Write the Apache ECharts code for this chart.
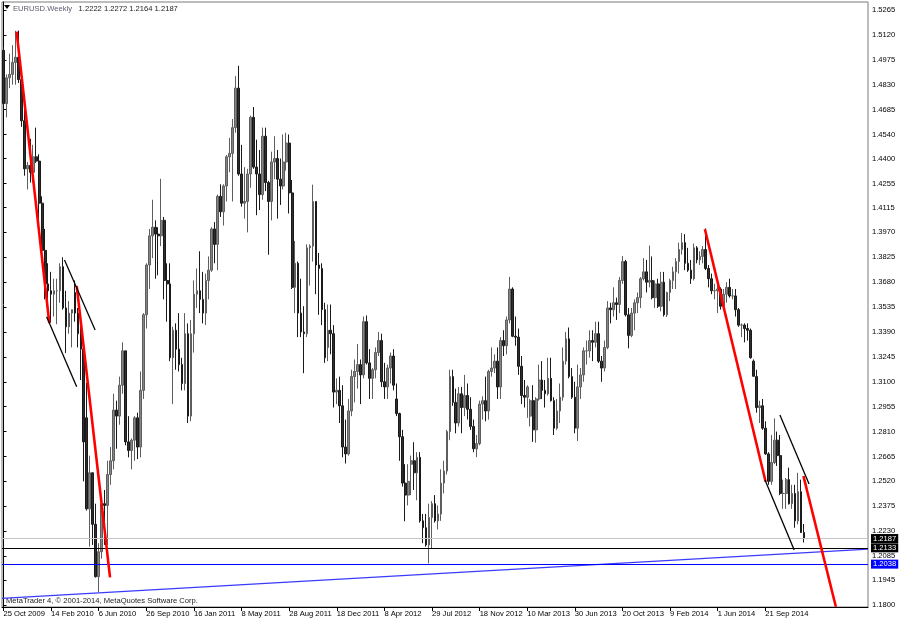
<!DOCTYPE html>
<html><head><meta charset="utf-8">
<script src="https://cdn.jsdelivr.net/npm/echarts@6/dist/echarts.min.js"></script>
<style>html,body{margin:0;padding:0;background:#fff}#c{width:900px;height:621px}</style>
</head><body><div id="c"></div><script>
// ---- data ----
const firstWeek = '2009-10-25';
const futureWeeks = 21;
const opens = [1.5030,1.4720,1.4870,1.4890,1.4960,1.4990,1.4860,1.4620,1.4340,1.4360,1.4320,1.4410,1.4385,1.4140,1.3865,1.3670,1.3630,1.3610,1.3630,1.3630,
1.3770,1.3530,1.3420,1.3500,1.3620,1.3500,1.3380,1.3290,1.2890,1.2360,1.2570,1.2270,1.1965,1.2110,1.2390,1.2380,1.2560,1.2640,1.2935,1.2900,
1.3080,1.3280,1.2750,1.2700,1.2760,1.2890,1.2720,1.3050,1.3490,1.3780,1.3950,1.4000,1.3960,1.3950,1.4040,1.3690,1.3670,1.3240,1.3400,1.3290,
1.3200,1.3090,1.3380,1.2900,1.3380,1.3610,1.3630,1.3580,1.3500,1.3690,1.3750,1.3990,1.3900,1.4180,1.4090,1.4240,1.4410,1.4430,1.4580,1.4810,
1.4310,1.4140,1.4150,1.4310,1.4640,1.4350,1.4310,1.4190,1.4530,1.4260,1.4150,1.4380,1.4400,1.4280,1.4240,1.4380,1.4490,1.4200,1.3650,1.3790,
1.3500,1.3390,1.3380,1.3880,1.3890,1.4150,1.3780,1.3760,1.3520,1.3300,1.3400,1.3380,1.3040,1.3050,1.2960,1.2720,1.2680,1.2930,1.3130,1.3160,
1.3200,1.3140,1.3450,1.3210,1.3120,1.3170,1.3270,1.3340,1.3100,1.3070,1.3180,1.3250,1.3000,1.2915,1.2780,1.2510,1.2440,1.2620,1.2640,1.2570,
1.2660,1.2290,1.2250,1.2150,1.2310,1.2390,1.2290,1.2330,1.2510,1.2580,1.2810,1.3130,1.2980,1.2860,1.3030,1.2950,1.3020,1.2940,1.2840,1.2710,
1.2740,1.2970,1.2990,1.2930,1.3160,1.3180,1.3220,1.3070,1.3340,1.3310,1.3460,1.3640,1.3365,1.3360,1.3190,1.3020,1.3010,1.2900,1.2990,1.2820,
1.3000,1.3110,1.3050,1.3030,1.3120,1.2990,1.2830,1.2930,1.3010,1.3220,1.3350,1.3130,1.3010,1.2830,1.3070,1.3140,1.3280,1.3280,1.3340,1.3330,
1.3380,1.3220,1.3180,1.3300,1.3530,1.3520,1.3560,1.3550,1.3690,1.3800,1.3490,1.3370,1.3500,1.3560,1.3590,1.3700,1.3740,1.3680,1.3690,1.3590,
1.3670,1.3540,1.3680,1.3490,1.3620,1.3690,1.3740,1.3800,1.3870,1.3910,1.3790,1.3750,1.3700,1.3880,1.3810,1.3830,1.3870,1.3760,1.3700,1.3630,
1.3630,1.3640,1.3540,1.3610,1.3650,1.3600,1.3600,1.3520,1.3430,1.3430,1.3410,1.3400,1.3220,1.3130,1.2950,1.2960,1.2830,1.2680,1.2520,1.2630,
1.2760,1.2670,1.2450,1.2450,1.2530,1.2390,1.2450,1.2290,1.2460,1.2222];
const highs = [1.5050,1.4890,1.5010,1.5060,1.5144,1.5145,1.4890,1.4720,1.4380,1.4515,1.4480,1.4580,1.4425,1.4180,1.3990,1.3790,1.3740,1.3700,1.3700,1.3790,
1.3825,1.3630,1.3570,1.3520,1.3690,1.3530,1.3480,1.3320,1.3094,1.2670,1.2570,1.2390,1.2160,1.2400,1.2470,1.2640,1.2720,1.3030,1.2990,1.3130,
1.3330,1.3280,1.2900,1.2770,1.2900,1.2920,1.3160,1.3500,1.3790,1.3990,1.4160,1.4040,1.4000,1.4282,1.4060,1.3790,1.3790,1.3420,1.3440,1.3500,
1.3240,1.3500,1.3440,1.3460,1.3690,1.3760,1.3860,1.3740,1.3730,1.3830,1.4000,1.4030,1.4190,1.4250,1.4250,1.4420,1.4520,1.4630,1.4880,1.4940,
1.4480,1.4350,1.4340,1.4650,1.4700,1.4510,1.4450,1.4580,1.4580,1.4270,1.4440,1.4530,1.4450,1.4400,1.4540,1.4550,1.4540,1.4275,1.3920,1.3800,
1.3700,1.3540,1.3900,1.3900,1.4248,1.4150,1.3850,1.3790,1.3560,1.3550,1.3550,1.3430,1.3120,1.3130,1.3080,1.2880,1.3000,1.3170,1.3230,1.3320,
1.3230,1.3480,1.3486,1.3290,1.3180,1.3300,1.3390,1.3380,1.3210,1.3200,1.3270,1.3290,1.3090,1.2920,1.2820,1.2620,1.2620,1.2670,1.2748,1.2690,
1.2690,1.2330,1.2330,1.2390,1.2405,1.2440,1.2380,1.2590,1.2640,1.2820,1.3170,1.3170,1.3060,1.3070,1.3070,1.3140,1.3090,1.3010,1.2880,1.2790,
1.2990,1.3015,1.3130,1.3170,1.3300,1.3260,1.3300,1.3360,1.3400,1.3480,1.3711,1.3650,1.3480,1.3410,1.3250,1.3110,1.3080,1.3000,1.3080,1.3010,
1.3200,1.3220,1.3110,1.3240,1.3240,1.3010,1.3000,1.3090,1.3300,1.3390,1.3416,1.3180,1.3100,1.3200,1.3180,1.3300,1.3340,1.3400,1.3400,1.3450,
1.3450,1.3250,1.3340,1.3570,1.3560,1.3650,1.3590,1.3710,1.3832,1.3810,1.3530,1.3530,1.3580,1.3620,1.3710,1.3820,1.3810,1.3893,1.3830,1.3690,
1.3700,1.3740,1.3740,1.3625,1.3700,1.3770,1.3820,1.3910,1.3967,1.3960,1.3880,1.3810,1.3905,1.3890,1.3860,1.3890,1.3993,1.3780,1.3730,1.3670,
1.3670,1.3650,1.3640,1.3680,1.3700,1.3640,1.3640,1.3530,1.3440,1.3440,1.3440,1.3410,1.3230,1.3170,1.2990,1.3000,1.2870,1.2690,1.2790,1.2887,
1.2810,1.2790,1.2530,1.2540,1.2600,1.2500,1.2500,1.2570,1.2530,1.2272];
const lows = [1.4680,1.4640,1.4810,1.4830,1.4830,1.4840,1.4585,1.4300,1.4220,1.4260,1.4260,1.4375,1.4030,1.3858,1.3580,1.3560,1.3444,1.3480,1.3435,1.3560,
1.3520,1.3268,1.3380,1.3300,1.3450,1.3300,1.3110,1.2520,1.2350,1.2140,1.2150,1.1960,1.1876,1.2070,1.2150,1.2150,1.2500,1.2590,1.2710,1.2850,
1.3030,1.2730,1.2660,1.2590,1.2640,1.2650,1.2660,1.3000,1.3410,1.3640,1.3820,1.3700,1.3720,1.3890,1.3580,1.3450,1.3220,1.2970,1.3170,1.3160,
1.3050,1.3050,1.2860,1.2870,1.3270,1.3530,1.3500,1.3440,1.3430,1.3580,1.3740,1.3790,1.3750,1.4060,1.4010,1.4150,1.4320,1.4150,1.4550,1.4300,
1.4120,1.4050,1.3970,1.4230,1.4340,1.4070,1.4100,1.4160,1.4210,1.3840,1.4040,1.4280,1.4050,1.4130,1.4220,1.4330,1.4080,1.3640,1.3500,1.3360,
1.3360,1.3150,1.3360,1.3660,1.3800,1.3610,1.3490,1.3430,1.3210,1.3220,1.3260,1.2950,1.2970,1.2860,1.2660,1.2624,1.2670,1.2900,1.2980,1.3060,
1.2970,1.3120,1.3200,1.3000,1.3000,1.3120,1.3250,1.3070,1.3000,1.3000,1.3090,1.3050,1.2900,1.2640,1.2490,1.2288,1.2380,1.2440,1.2470,1.2410,
1.2280,1.2160,1.2140,1.2042,1.2130,1.2280,1.2240,1.2290,1.2450,1.2560,1.2760,1.2960,1.2800,1.2840,1.2800,1.2900,1.2880,1.2820,1.2690,1.2661,
1.2730,1.2880,1.2870,1.2880,1.3130,1.3150,1.3000,1.3000,1.3250,1.3260,1.3440,1.3360,1.3310,1.3140,1.2970,1.2950,1.2890,1.2840,1.2750,1.2745,
1.2990,1.3000,1.2950,1.3020,1.2985,1.2790,1.2820,1.2860,1.2990,1.3200,1.3120,1.3000,1.2800,1.2755,1.3000,1.3100,1.3200,1.3240,1.3220,1.3300,
1.3210,1.3100,1.3160,1.3290,1.3440,1.3480,1.3460,1.3500,1.3670,1.3480,1.3295,1.3360,1.3400,1.3500,1.3530,1.3690,1.3620,1.3650,1.3580,1.3530,
1.3530,1.3510,1.3480,1.3477,1.3570,1.3640,1.3640,1.3730,1.3840,1.3750,1.3740,1.3670,1.3690,1.3790,1.3780,1.3790,1.3750,1.3650,1.3610,1.3580,
1.3500,1.3520,1.3530,1.3560,1.3590,1.3580,1.3480,1.3420,1.3360,1.3330,1.3340,1.3235,1.3130,1.2920,1.2860,1.2820,1.2675,1.2500,1.2500,1.2620,
1.2610,1.2440,1.2360,1.2360,1.2385,1.2360,1.2250,1.2270,1.2220,1.2164];
const closes = [1.4720,1.4870,1.4890,1.4960,1.4990,1.4860,1.4620,1.4340,1.4360,1.4320,1.4410,1.4385,1.4140,1.3865,1.3670,1.3630,1.3610,1.3630,1.3630,1.3770,
1.3530,1.3420,1.3500,1.3520,1.3500,1.3380,1.3290,1.2750,1.2360,1.2570,1.2270,1.1965,1.2110,1.2390,1.2380,1.2560,1.2640,1.2935,1.2900,1.3080,
1.3280,1.2750,1.2700,1.2760,1.2890,1.2720,1.3050,1.3490,1.3780,1.3950,1.4000,1.3960,1.3950,1.4040,1.3690,1.3670,1.3240,1.3400,1.3290,1.3200,
1.3090,1.3380,1.2900,1.3380,1.3610,1.3630,1.3580,1.3500,1.3690,1.3750,1.3990,1.3900,1.4180,1.4090,1.4240,1.4410,1.4430,1.4580,1.4810,1.4310,
1.4140,1.4150,1.4310,1.4640,1.4350,1.4310,1.4190,1.4530,1.4260,1.4150,1.4380,1.4400,1.4280,1.4240,1.4380,1.4490,1.4200,1.3650,1.3790,1.3500,
1.3390,1.3380,1.3880,1.3890,1.4150,1.3780,1.3760,1.3520,1.3240,1.3400,1.3380,1.3040,1.3050,1.2960,1.2720,1.2680,1.2930,1.3130,1.3160,1.3200,
1.3140,1.3450,1.3210,1.3120,1.3170,1.3270,1.3340,1.3100,1.3070,1.3180,1.3250,1.3080,1.2915,1.2780,1.2510,1.2440,1.2520,1.2640,1.2570,1.2660,
1.2290,1.2250,1.2150,1.2310,1.2390,1.2290,1.2330,1.2510,1.2580,1.2810,1.3130,1.2980,1.2860,1.3030,1.2950,1.3020,1.2940,1.2840,1.2710,1.2740,
1.2970,1.2990,1.2930,1.3160,1.3180,1.3220,1.3070,1.3340,1.3310,1.3460,1.3640,1.3365,1.3360,1.3190,1.3020,1.3010,1.3070,1.2990,1.2820,1.3000,
1.3110,1.3050,1.3030,1.3120,1.2990,1.2830,1.2930,1.3010,1.3220,1.3350,1.3130,1.3010,1.2830,1.3070,1.3140,1.3280,1.3280,1.3340,1.3330,1.3380,
1.3220,1.3180,1.3300,1.3530,1.3520,1.3560,1.3550,1.3690,1.3800,1.3490,1.3370,1.3500,1.3560,1.3590,1.3700,1.3740,1.3680,1.3690,1.3590,1.3670,
1.3540,1.3680,1.3490,1.3620,1.3690,1.3740,1.3800,1.3870,1.3910,1.3790,1.3750,1.3700,1.3880,1.3810,1.3830,1.3870,1.3760,1.3700,1.3630,1.3630,
1.3640,1.3540,1.3610,1.3650,1.3600,1.3600,1.3520,1.3430,1.3430,1.3410,1.3400,1.3240,1.3132,1.2950,1.2960,1.2830,1.2680,1.2520,1.2630,1.2760,
1.2670,1.2450,1.2450,1.2530,1.2390,1.2450,1.2290,1.2460,1.2222,1.2187];
const xTickIdx = [0,16,32,48,64,80,96,112,128,144,160,176,192,208,224,240,256];
const xTickLabels = ['25 Oct 2009','14 Feb 2010','6 Jun 2010','26 Sep 2010','16 Jan 2011','8 May 2011','28 Aug 2011','18 Dec 2011','8 Apr 2012','29 Jul 2012','18 Nov 2012','10 Mar 2013','30 Jun 2013','20 Oct 2013','9 Feb 2014','1 Jun 2014','21 Sep 2014'];
const yTickValues = [1.5265,1.5120,1.4975,1.4830,1.4685,1.4540,1.4400,1.4255,1.4115,1.3970,1.3825,1.3680,1.3535,1.3390,1.3245,1.3100,1.2955,1.2810,1.2665,1.2520,1.2375,1.2230,1.2085,1.1945,1.1800];
const bidLine = 1.2187;
const levelBlack = 1.2133;
const levelBlue = 1.2038;
const redTrendlines = [[[4.4,1.5139],[15.4,1.3442]],[[24.6,1.3658],[35.8,1.1961]],[[235.7,1.3988],[256.1,1.2518]],[[268.8,1.2551],[279.7,1.1790]]];
const blackTrendlines = [[[14.5,1.3479],[24.6,1.3071]],[[20.5,1.3809],[30.8,1.3402]],[[255.9,1.2528],[265.7,1.2120]],[[260.9,1.2907],[270.7,1.2505]]];
const supportTrendline = [[-0.5,1.1839],[290.5,1.2126]];
const titleSymbol = 'EURUSD.Weekly';
const titleQuote = [1.2222,1.2272,1.2164,1.2187];

// ---- build ----
const nCat = opens.length + futureWeeks;
const cats = [];
const t0 = Date.UTC(2009,9,25);
for (let i = 0; i < nCat; i++) { const d = new Date(t0 + i*7*86400000); cats.push(d.toISOString().slice(0,10)); }
const candles = opens.map((o,i)=>[o, closes[i], lows[i], highs[i]]);
const FONT = 'Liberation Sans, Arial, sans-serif';
const FS = 7.6;
const YMIN = 1.17884, YMAX = 1.53116;

const chart = echarts.init(document.getElementById('c'), null, {renderer:'canvas'});
const lineSeries = [];
redTrendlines.forEach(seg => lineSeries.push({type:'line', xAxisIndex:1, yAxisIndex:0, data:seg, symbol:'none', silent:true, clip:true, z:5,
  lineStyle:{color:'#ff0000', width:2.6}}));
blackTrendlines.forEach(seg => lineSeries.push({type:'line', xAxisIndex:1, yAxisIndex:0, data:seg, symbol:'none', silent:true, clip:true, z:5,
  lineStyle:{color:'#000000', width:1.3}}));
lineSeries.push({type:'line', xAxisIndex:1, yAxisIndex:0, data:supportTrendline, symbol:'none', silent:true, clip:true, z:4,
  lineStyle:{color:'#3a3aff', width:1.3}});

const lblBase = {show:true, position:'end', distance:3, color:'#fff', fontSize:FS, fontFamily:FONT, padding:[1,2,0,2]};
chart.setOption({
  animation:false,
  backgroundColor:'#fff',
  grid:{left:2, right:32, top:2, bottom:14, show:true, borderColor:'#7a7a7a', borderWidth:1, backgroundColor:'transparent'},
  xAxis:[
    {type:'category', data:cats, boundaryGap:true, show:false},
    {type:'value', min:-0.5, max:nCat-0.5, position:'bottom',
      axisLine:{show:true, lineStyle:{color:'#000', width:1}},
      splitLine:{show:false},
      axisTick:{show:true, customValues:xTickIdx, length:4, lineStyle:{color:'#000'}},
      axisLabel:{customValues:xTickIdx, formatter:v=>{const k=xTickIdx.indexOf(Math.round(v)); return k>=0?xTickLabels[k]:'';},
        align:'left', margin:3, color:'#000', fontSize:FS, fontFamily:FONT, showMinLabel:true, showMaxLabel:true}}
  ],
  yAxis:[{type:'value', position:'right', min:YMIN, max:YMAX, scale:true,
    axisLine:{show:true, lineStyle:{color:'#000', width:1}},
    splitLine:{show:false},
    axisTick:{show:true, customValues:yTickValues, length:3, lineStyle:{color:'#000'}},
    axisLabel:{customValues:yTickValues, formatter:v=>v.toFixed(4), margin:4, color:'#000', fontSize:FS, fontFamily:FONT}}],
  series:[
    {type:'candlestick', xAxisIndex:0, yAxisIndex:0, data:candles, barWidth:2.2, z:3,
      itemStyle:{color:'#858585', color0:'#2e2e2e', borderColor:'#5e5e5e', borderColor0:'#1a1a1a', borderWidth:1},
      markLine:{silent:true, symbol:'none', animation:false, precision:4,
        data:[
          {yAxis:bidLine, lineStyle:{color:'#c4c4c4', width:1, type:'solid'}, label:Object.assign({}, lblBase, {backgroundColor:'#000', formatter:bidLine.toFixed(4)})},
          {yAxis:levelBlack, lineStyle:{color:'#000', width:1, type:'solid'}, label:Object.assign({}, lblBase, {backgroundColor:'#000', formatter:levelBlack.toFixed(4)})},
          {yAxis:levelBlue, lineStyle:{color:'#0000ff', width:1, type:'solid'}, label:Object.assign({}, lblBase, {backgroundColor:'#0000ff', formatter:levelBlue.toFixed(4)})}
        ]}}
  ].concat(lineSeries),
  graphic:[
    {type:'polygon', shape:{points:[[4,5],[10,5],[7,9]]}, style:{fill:'#000'}},
    {type:'text', left:13, top:3, style:{text:'{a|'+titleSymbol+'}  {b|'+titleQuote.map(v=>v.toFixed(4)).join(' ')+'}',
      rich:{a:{fill:'#5a5a6e', fontSize:FS, fontFamily:FONT}, b:{fill:'#222', fontSize:FS, fontFamily:FONT}}}},
    {type:'text', left:6, top:597, style:{text:'MetaTrader 4, \u00a9 2001-2014, MetaQuotes Software Corp.', fill:'#222', fontSize:FS, fontFamily:FONT}}
  ]
});
</script></body></html>
